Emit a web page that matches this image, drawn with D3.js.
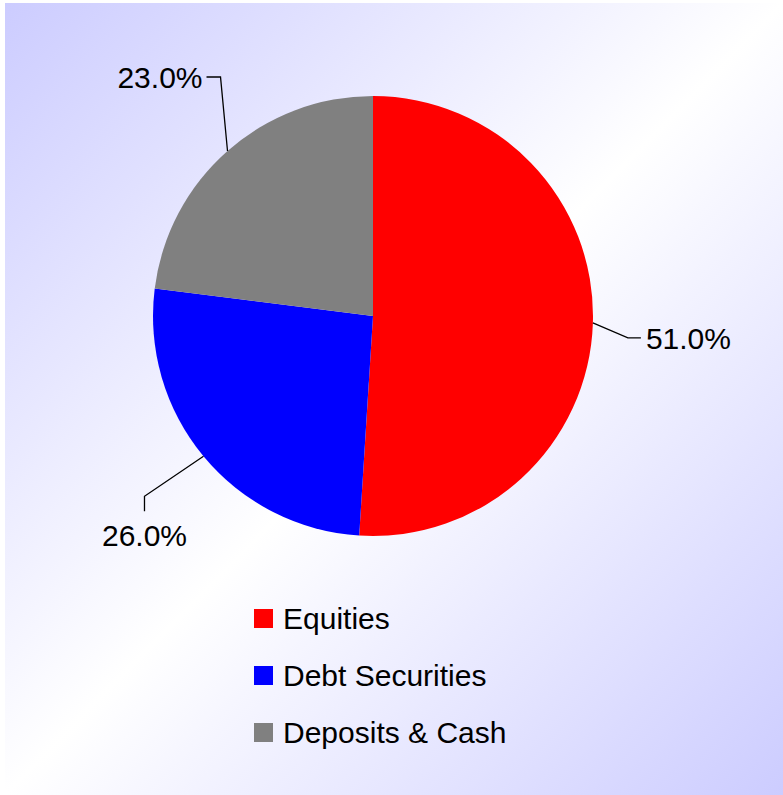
<!DOCTYPE html>
<html><head><meta charset="utf-8">
<script src="https://cdn.jsdelivr.net/npm/d3@7"></script>
<style>html,body{margin:0;padding:0;background:#fff;}svg{display:block;}</style>
</head><body>
<script>
const categories = ["Equities", "Debt Securities", "Deposits & Cash"];
const values = [51.0, 26.0, 23.0];
const colors = ["#ff0000", "#0000ff", "#808080"];
const labels = ["51.0%", "26.0%", "23.0%"];

const W = 783, H = 795;
const svg = d3.select("body").append("svg").attr("width", W).attr("height", H);
const defs = svg.append("defs");
const grad = defs.append("linearGradient").attr("id", "bg")
  .attr("x1", "0%").attr("y1", "0%").attr("x2", "100%").attr("y2", "100%");
grad.append("stop").attr("offset", "0%").attr("stop-color", "#ccccff");
grad.append("stop").attr("offset", "50%").attr("stop-color", "#ffffff");
grad.append("stop").attr("offset", "100%").attr("stop-color", "#ccccff");
svg.append("rect").attr("x", 5).attr("y", 3).attr("width", W - 5).attr("height", H - 3).attr("fill", "url(#bg)");

const cx = 373, cy = 316, r = 220;
const g = svg.append("g").attr("transform", `translate(${cx},${cy})`);
const pie = d3.pie().sort(null).value(d => d)(values);
const arc = d3.arc().innerRadius(0).outerRadius(r);
g.selectAll("path.slice").data(pie).join("path").attr("class", "slice")
  .attr("d", arc).attr("fill", (d, i) => colors[i]);

const font = "'Liberation Sans', Arial, sans-serif";
const fs = 30;
pie.forEach((d, i) => {
  const a = (d.startAngle + d.endAngle) / 2;
  const x0 = r * Math.sin(a), y0 = -r * Math.cos(a);
  let pts, tx, ty, anchor;
  if (i === 0) {
    pts = [[x0, y0], [x0 + 35, y0 + 15], [x0 + 48, y0 + 15]];
    tx = x0 + 53; ty = y0 + 16; anchor = "start";
  } else if (i === 1) {
    pts = [[x0, y0], [x0 - 59, y0 + 40], [x0 - 59, y0 + 55]];
    tx = x0 - 59; ty = y0 + 79; anchor = "middle";
  } else {
    pts = [[x0, y0], [x0 - 7, y0 - 74], [x0 - 21, y0 - 74]];
    tx = x0 - 25; ty = y0 - 73; anchor = "end";
  }
  g.append("polyline").attr("points", pts.map(p => p.join(",")).join(" "))
    .attr("fill", "none").attr("stroke", "#000").attr("stroke-width", 1.3);
  g.append("text").attr("x", tx).attr("y", ty).attr("dy", "0.35em")
    .attr("text-anchor", anchor).attr("font-family", font).attr("font-size", fs)
    .attr("fill", "#000").text(labels[i]);
});

// legend
const leg = svg.append("g").attr("transform", "translate(254,609)");
const rows = leg.selectAll("g").data(categories).join("g")
  .attr("transform", (d, i) => `translate(0,${i * 57})`);
rows.append("rect").attr("width", 19).attr("height", 19).attr("fill", (d, i) => colors[i]);
rows.append("text").attr("x", 29).attr("y", 9.5).attr("dy", "0.35em")
  .attr("font-family", font).attr("font-size", fs).attr("fill", "#000").text(d => d);
</script>
</body></html>
